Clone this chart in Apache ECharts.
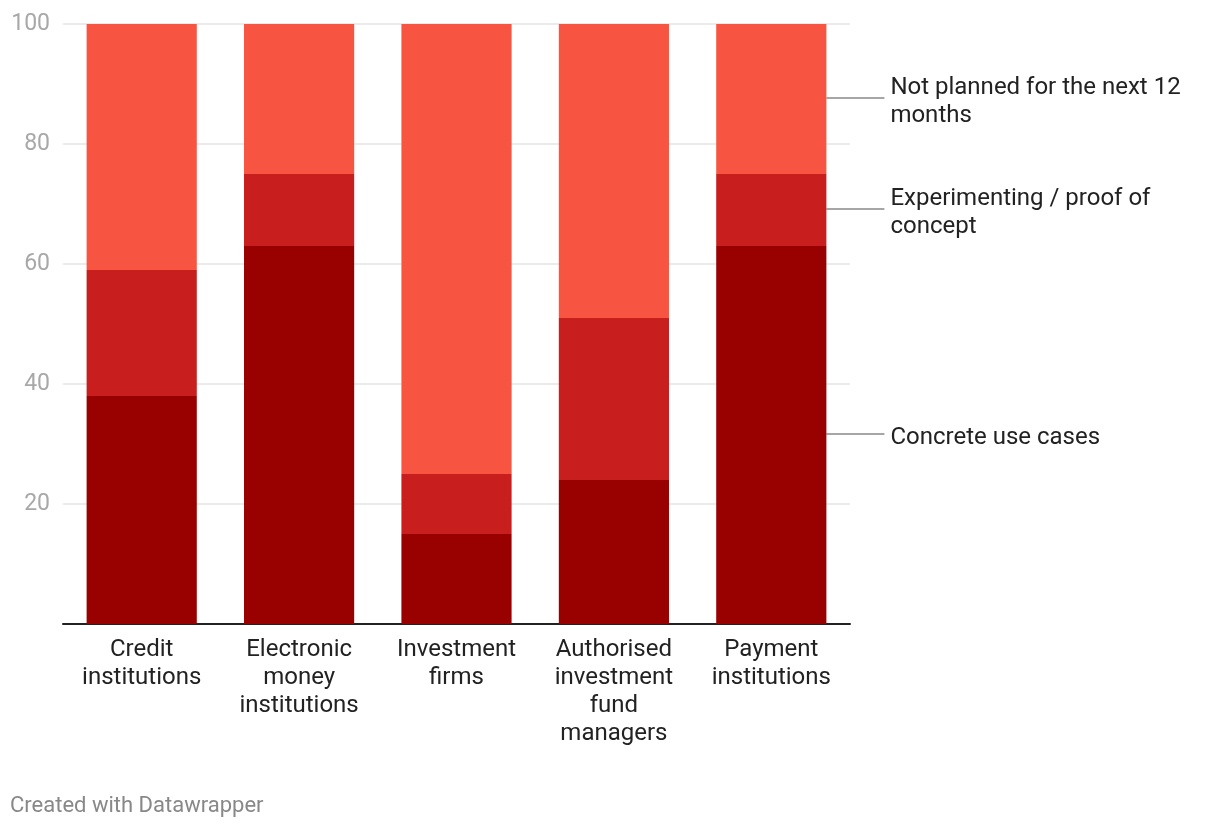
<!DOCTYPE html>
<html>
<head>
<meta charset="utf-8">
<script src="https://cdn.jsdelivr.net/npm/echarts@6/dist/echarts.min.js"></script>
<style>
html,body{margin:0;padding:0;background:#fff;}
#c{width:1220px;height:828px;}
</style>
</head>
<body>
<div id="c"></div>
<script>
const categories = ["Credit\ninstitutions", "Electronic\nmoney\ninstitutions", "Investment\nfirms", "Authorised\ninvestment\nfund\nmanagers", "Payment\ninstitutions"];
const seriesNames = ["Concrete use cases", "Experimenting / proof of concept", "Not planned for the next 12 months"];
const seriesLabelLines = [["Concrete use cases"], ["Experimenting / proof of", "concept"], ["Not planned for the next 12", "months"]];
const concrete = [38, 63, 15, 24, 63];
const experimenting = [21, 12, 10, 27, 12];
const notPlanned = [41, 25, 75, 49, 25];
const yTicks = [0, 20, 40, 60, 80, 100];
const colors = ["#990000", "#c81e1e", "#f75542"];

const values = [concrete, experimenting, notPlanned];
const chart = echarts.init(document.getElementById('c'), null, {renderer: 'canvas'});
const FONT = 'Roboto';

const series = values.map((vals, si) => ({
  name: seriesNames[si],
  type: 'bar',
  stack: 'total',
  barWidth: '70%',
  itemStyle: {color: colors[si]},
  emphasis: {disabled: true},
  data: vals.map((v, i) => {
    const d = {value: v};
    if (i === vals.length - 1) {
      d.label = {
        show: true,
        position: 'right',
        distance: 0,
        formatter: '{s| }\n' + seriesLabelLines[si].map(t => '{a|' + t + '}').join('\n'),
        align: 'left',
        rich: {
          s: {fontSize: 6, lineHeight: 6, height: 6, color: 'rgba(0,0,0,0)', fontFamily: FONT},
          a: {color: '#222', fontFamily: FONT, fontSize: 24, lineHeight: 28, padding: [0, 0, 0, 6]}
        }
      };
      d.labelLine = {show: true, length2: 0, lineStyle: {color: '#888', width: 1.5}};
    }
    return d;
  }),
  labelLayout: function (p) { return {dx: 58}; },
  labelLine: {show: false}
}));

chart.setOption({
  animation: false,
  backgroundColor: '#fff',
  grid: {left: 63, right: 370, top: 24, bottom: 204, containLabel: false},
  xAxis: {
    type: 'category',
    data: categories,
    axisLine: {lineStyle: {color: '#222', width: 2}},
    axisTick: {show: false},
    axisLabel: {color: '#222', fontFamily: FONT, fontSize: 24, lineHeight: 28, margin: 12, interval: 0}
  },
  yAxis: {
    type: 'value',
    min: yTicks[0],
    max: yTicks[yTicks.length - 1],
    interval: 20,
    axisLine: {show: false},
    axisTick: {show: false},
    axisLabel: {color: '#a8a8a8', fontFamily: FONT, fontSize: 23, margin: 13, formatter: v => v === 0 ? '' : String(v)},
    splitLine: {lineStyle: {color: '#e4e4e4', width: 1.5}}
  },
  graphic: [{
    type: 'text', left: 10, top: 795,
    style: {text: 'Created with Datawrapper', fill: '#888', font: '22px Roboto'}
  }],
  series: series
});
</script>
</body>
</html>
